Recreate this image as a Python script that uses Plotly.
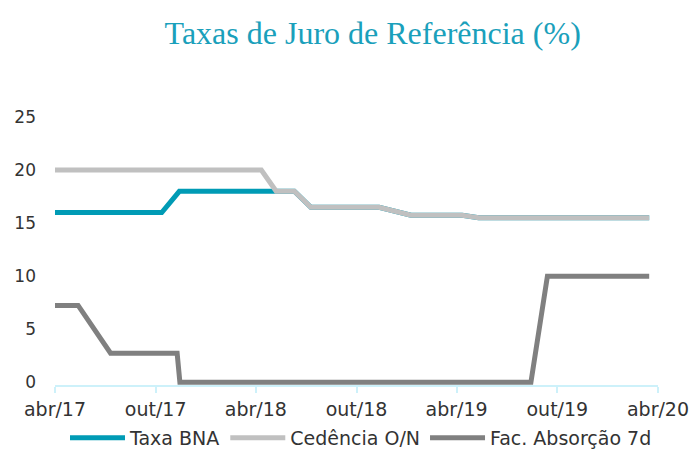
import plotly.graph_objects as go

# ---- data ----
bna_dates = ["2017-04-01", "2017-10-12", "2017-11-13", "2018-06-10", "2018-07-10",
             "2018-11-11", "2019-01-08", "2019-04-11", "2019-05-11", "2020-03-16"]
bna_values = [16, 16, 18, 18, 16.5, 16.5, 15.75, 15.75, 15.5, 15.5]

ced_dates = ["2017-04-01", "2018-04-11", "2018-05-08", "2018-06-10", "2018-07-10",
             "2018-11-11", "2019-01-08", "2019-04-11", "2019-05-11", "2020-03-16"]
ced_values = [20, 20, 18, 18, 16.5, 16.5, 15.75, 15.75, 15.5, 15.5]

fac_dates = ["2017-04-01", "2017-05-13", "2017-07-11", "2017-11-09", "2017-11-14",
             "2019-08-14", "2019-09-13", "2020-03-16"]
fac_values = [7.25, 7.25, 2.75, 2.75, 0, 0, 10, 10]

tick_dates = ["2017-04-01", "2017-10-01", "2018-04-01", "2018-10-01",
              "2019-04-01", "2019-10-01", "2020-04-01"]
tick_labels = ["abr/17", "out/17", "abr/18", "out/18", "abr/19", "out/19", "abr/20"]
y_ticks = [0, 5, 10, 15, 20, 25]

series_names = ["Taxa BNA", "Cedência O/N", "Fac. Absorção 7d"]
series_colors = ["#009bb5", "#c0c0c0", "#808080"]

TEXT = "#333333"
AXIS = "#cdf1fa"
FONT = "DejaVu Sans, Verdana, sans-serif"

fig = go.Figure()
for name, xs, ys, col in zip(series_names,
                             [bna_dates, ced_dates, fac_dates],
                             [bna_values, ced_values, fac_values],
                             series_colors):
    fig.add_trace(go.Scatter(x=xs, y=ys, mode="lines", name=name,
                             line=dict(color=col, width=5),
                             hoverinfo="skip"))

fig.update_layout(
    width=694, height=450,
    margin=dict(l=55, r=36, t=117, b=65, autoexpand=False),
    paper_bgcolor="white", plot_bgcolor="white",
    font=dict(family=FONT, size=18, color=TEXT),
    title=dict(text="Taxas de Juro de Referência (%)",
               font=dict(family="Liberation Serif, Times New Roman, serif", size=32, color="#1aa0bb"),
               x=0.537, xref="container", xanchor="center",
               y=1 - 33 / 450, yref="container", yanchor="middle"),
    showlegend=True,
    legend=dict(orientation="h", x=65 / 694, xref="container", xanchor="left",
                y=1 - 438 / 450, yref="container", yanchor="middle",
                font=dict(family=FONT, size=19, color=TEXT),
                itemwidth=55, bgcolor="rgba(0,0,0,0)", borderwidth=0,
                traceorder="normal"),
    xaxis=dict(type="date", range=["2017-04-01", "2020-04-01"],
               tickmode="array", tickvals=tick_dates, ticktext=tick_labels,
               showgrid=False, zeroline=False,
               showline=True, linecolor=AXIS, linewidth=2,
               ticks="outside", ticklen=6, tickcolor=AXIS, tickwidth=2,
               tickfont=dict(family=FONT, size=19, color=TEXT)),
    yaxis=dict(range=[-0.25, 25], tickmode="array", tickvals=y_ticks,
               showgrid=False, zeroline=False, showline=False,
               ticks="", ticklabelstandoff=18,
               tickfont=dict(family=FONT, size=17, color=TEXT)),
)

fig.write_html("out.html")
